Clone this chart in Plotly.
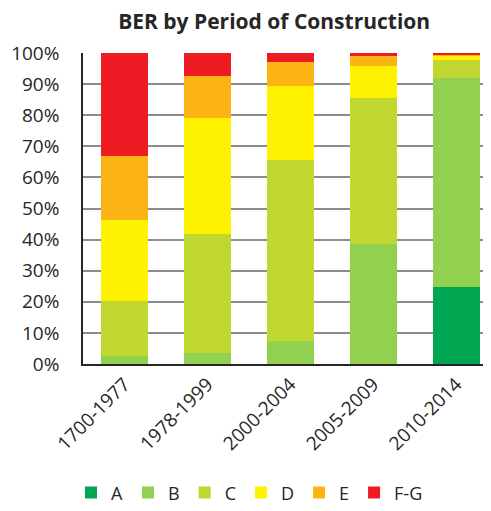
import plotly.graph_objects as go

# BER share (%) for each period of construction
periods = ["1700-1977", "1978-1999", "2000-2004", "2005-2009", "2010-2014"]
ber_a = [0.0, 0.0, 0.0, 0.0, 24.9]
ber_b = [2.5, 3.6, 7.5, 38.5, 67.0]
ber_c = [17.9, 38.1, 58.1, 47.0, 5.9]
ber_d = [25.8, 37.5, 23.9, 10.4, 1.3]
ber_e = [20.6, 13.5, 7.6, 3.2, 0.4]
ber_fg = [33.2, 7.3, 2.9, 0.9, 0.5]

series = [
    ("A", ber_a, "#00A651"),
    ("B", ber_b, "#92D050"),
    ("C", ber_c, "#BFD730"),
    ("D", ber_d, "#FFF200"),
    ("E", ber_e, "#FBB413"),
    ("F-G", ber_fg, "#ED1C24"),
]

fig = go.Figure()
for name, vals, col in series:
    fig.add_trace(go.Bar(x=periods, y=vals, name=name, marker_color=col,
                         marker_line_width=0))

# page body has an 8px margin, so the figure is sized to fit inside the window
fig.update_layout(
    width=483, height=503,
    barmode="stack", bargap=0.43,
    plot_bgcolor="white", paper_bgcolor="white",
    margin=dict(l=75, r=0, t=45, b=147),
    font=dict(family="Open Sans, Noto Sans, sans-serif", size=19, color="#262626"),
    title=dict(text="<b>BER by Period of Construction</b>", x=0.551, xanchor="center",
               y=0.972, yref="container", yanchor="middle", font=dict(size=21)),
    legend=dict(orientation="h", x=0.5, xanchor="center", xref="container",
                y=0.036, yanchor="middle", yref="container",
                font=dict(size=18), traceorder="normal"),
)
fig.update_xaxes(tickangle=-45, range=[-0.5, 4.42], showline=True,
                 linecolor="#262626", linewidth=1.5, ticks="", automargin=False)
fig.update_yaxes(range=[0, 100], dtick=10, ticksuffix="%", showgrid=True,
                 gridcolor="#8c8c8c", gridwidth=1.5, zeroline=False,
                 showline=True, linecolor="#262626", linewidth=1.5,
                 ticks="", ticklabelstandoff=18, automargin=False)

fig.write_html("out.html")
